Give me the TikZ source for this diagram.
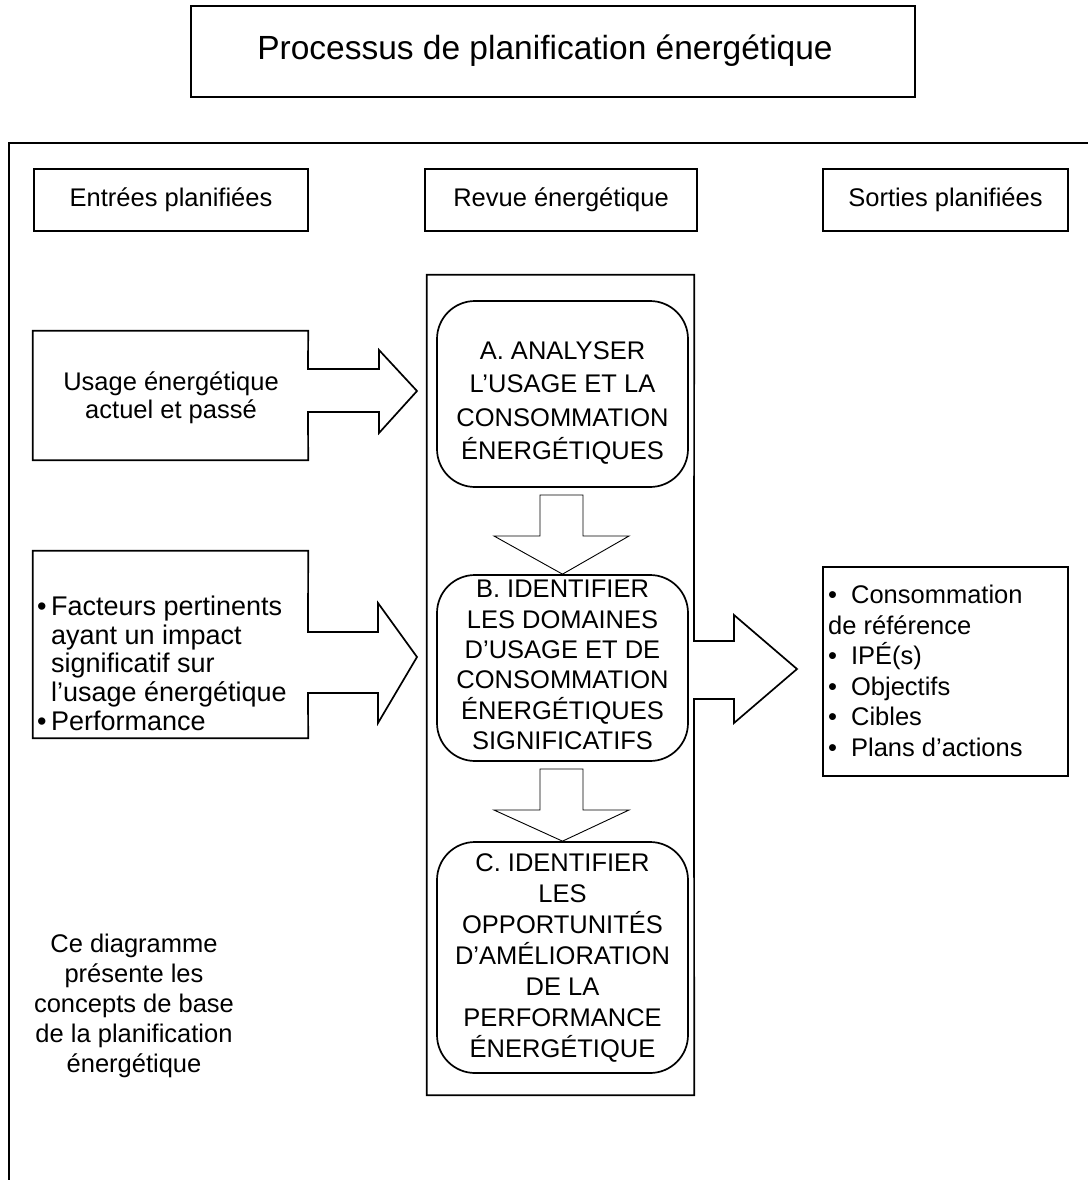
\documentclass[tikz,border=0pt]{standalone}
\usepackage{fontspec}
\setmainfont{Liberation Sans}
\begin{document}
\begin{tikzpicture}[x=1pt,y=-1pt,
  line/.style={draw=black,line width=1.7pt,line join=miter},
  thin/.style={draw=black,line width=0.9pt,line join=miter},
  boxed/.style={draw=black,line width=1.7pt,inner sep=0pt},
  plain/.style={inner sep=0pt,align=center},
  rbox/.style={draw=black,line width=1.7pt,rounded corners=38pt,inner sep=0pt},
  txt/.style={font=\fontsize{25.5}{30}\selectfont}]
\path[use as bounding box,fill=white] (0,0) rectangle (1088,1180);

% title
\node[boxed,minimum width=724pt,minimum height=91pt] (title) at (553,51.5) {};
\node[plain,font=\fontsize{33.5}{38}\selectfont] (titletext) at (545,51) {Processus de planification énergétique};

% outer frame (open on right and bottom)
\coordinate (fbl) at (9,1180);
\coordinate (ftl) at (9,143);
\coordinate (ftr) at (1088,143);
\draw[line] (fbl) -- (ftl) -- (ftr);

% headers
\node[boxed,txt,minimum width=274pt,minimum height=62pt] (h1) at (171,200) {Entrées planifiées};
\node[boxed,txt,minimum width=272pt,minimum height=62pt] (h2) at (561,200) {Revue énergétique};
\node[boxed,txt,minimum width=245pt,minimum height=62pt] (h3) at (945.5,200) {Sorties planifiées};

% central column with right arrow
\node[plain,minimum width=267pt,minimum height=820pt] (rev) at (560.5,685) {};
\draw[line] (rev.north west) -- (rev.north east) -- (694,641) -- (734,641) -- (734,615) -- (797,669) -- (734,723) -- (734,699) -- (694,699) -- (rev.south east) -- (rev.south west) -- cycle;

% rounded steps
\node[rbox,minimum width=251pt,minimum height=186pt] (A) at (562.5,394) {};
\node[plain,font=\fontsize{25.5}{33.3}\selectfont] (At) at (562.5,403) {A. ANALYSER\\L’USAGE ET LA\\CONSOMMATION\\ÉNERGÉTIQUES};
\node[rbox,minimum width=251pt,minimum height=186pt] (B) at (562.5,668) {};
\node[plain,font=\fontsize{25.5}{30.4}\selectfont] (Bt) at (562.5,665) {B. IDENTIFIER\\LES DOMAINES\\D’USAGE ET DE\\CONSOMMATION\\ÉNERGÉTIQUES\\SIGNIFICATIFS};
\node[rbox,minimum width=251pt,minimum height=231pt] (C) at (562.5,957.5) {};
\node[plain,font=\fontsize{25.5}{31}\selectfont] (Ct) at (562.5,958) {C. IDENTIFIER\\LES\\OPPORTUNITÉS\\D’AMÉLIORATION\\DE LA\\PERFORMANCE\\ÉNERGÉTIQUE};

% down arrows
\draw[thin] (540,495) -- (583,495) -- (583,536) -- (629,536) -- (A.south |- B.north) -- (494,536) -- (540,536) -- cycle;
\draw[thin] (540,769) -- (583,769) -- (583,810) -- (629,810) -- (B.south |- C.north) -- (494,810) -- (540,810) -- cycle;

% left inputs with arrows
\node[plain,minimum width=275pt,minimum height=129pt] (in1) at (170.5,395.5) {};
\node[plain,font=\fontsize{25.5}{28}\selectfont] (in1t) at (171,398) {Usage énergétique\\actuel et passé};
\draw[line] (in1.north west) -- (in1.north east) -- (308,369) -- (379,369) -- (379,350) -- (417,391) -- (379,433) -- (379,412) -- (308,412) -- (in1.south east) -- (in1.south west) -- cycle;

\node[plain,minimum width=275pt,minimum height=187pt] (in2) at (170.5,644.5) {};
\node[plain,anchor=north west,align=left,font=\fontsize{27}{28.6}\selectfont] (in2t) at (37,596) {•\,Facteurs pertinents\\\phantom{•\,}ayant un impact\\\phantom{•\,}significatif sur\\\phantom{•\,}l’usage énergétique\\•\,Performance};
\draw[line] (in2.north west) -- (in2.north east) -- (308,632) -- (378,632) -- (378,603) -- (417,657) -- (378,723) -- (378,693) -- (308,693) -- (in2.south east) -- (in2.south west) -- cycle;

% outputs
\node[boxed,minimum width=245pt,minimum height=209pt] (out) at (945.5,671.5) {};
\node[plain,anchor=north west,align=left,font=\fontsize{25.5}{30.5}\selectfont] (outt) at (828,585) {•\hspace{14pt}Consommation\\de référence\\•\hspace{14pt}IPÉ(s)\\•\hspace{14pt}Objectifs\\•\hspace{14pt}Cibles\\•\hspace{14pt}Plans d’actions};

% note
\node[plain,font=\fontsize{25.5}{30}\selectfont] (note) at (134,1006) {Ce diagramme\\présente les\\concepts de base\\de la planification\\énergétique};
\end{tikzpicture}
\end{document}
